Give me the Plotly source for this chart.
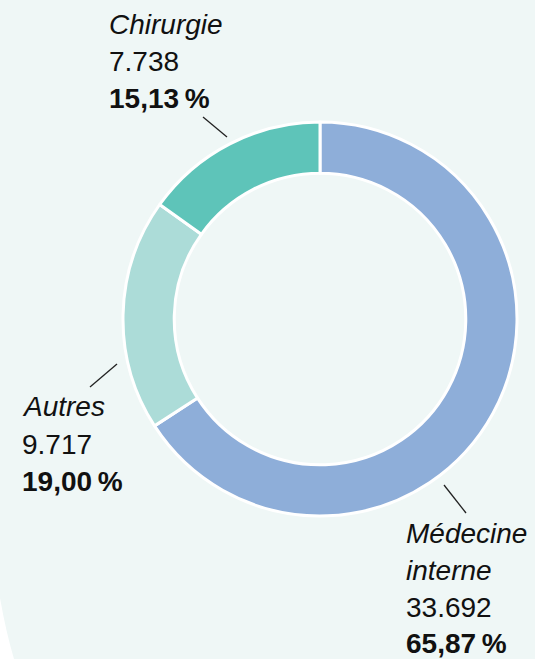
import plotly.graph_objects as go

W, H = 535, 659

categories = ["Médecine interne", "Autres", "Chirurgie"]
values = [33692, 9717, 7738]
value_labels = ["33.692", "9.717", "7.738"]
pct_labels = ["65,87\u2009%", "19,00\u2009%", "15,13\u2009%"]
colors = ["#8eaed9", "#acdcd8", "#5ec4b9"]

fig = go.Figure()
cx, cy, r = 320, 319, 197
fig.add_trace(go.Pie(
    labels=categories, values=values, sort=False, direction="clockwise",
    rotation=0, hole=0.74, textinfo="none", hoverinfo="label+value+percent",
    marker=dict(colors=colors, line=dict(color="white", width=3)),
    domain=dict(x=[(cx - r) / W, (cx + r) / W], y=[1 - (cy + r) / H, 1 - (cy - r) / H]),
    showlegend=False,
))

def px(x):
    return x / W

def py(y):
    return 1 - y / H

FONT = "Liberation Sans"
FS = 28
label_lines = {
    "Chirurgie": (107, [("<i>Chirurgie</i>", 25), (value_labels[2], 61), ("<b>" + pct_labels[2] + "</b>", 98)]),
    "Autres": (20, [("<i>Autres</i>", 406), (value_labels[1], 444), ("<b>" + pct_labels[1] + "</b>", 481)]),
    "Médecine": (404, [("<i>Médecine</i>", 533), ("<i>interne</i>", 570), (value_labels[0], 607), ("<b>" + pct_labels[0] + "</b>", 643)]),
}
for key, (x0, lines) in label_lines.items():
    for txt, yc in lines:
        fig.add_annotation(x=px(x0), y=py(yc), xref="paper", yref="paper", text=txt,
                           showarrow=False, xanchor="left", yanchor="middle",
                           font=dict(family=FONT, size=FS, color="#111111"))

leaders = [((203, 117), (227, 137)), ((90, 387), (117, 364)), ((444, 485), (466, 513))]
for (x0, y0), (x1, y1) in leaders:
    fig.add_shape(type="line", xref="paper", yref="paper", x0=px(x0), y0=py(y0), x1=px(x1), y1=py(y1),
                  line=dict(color="#222222", width=1.3))

# white corner at bottom left
fig.add_shape(type="path", xref="paper", yref="paper", layer="below",
              path=f"M 0,{py(598)} Q {px(6)},{py(632)} {px(14)},{py(659)} L 0,{py(659)} Z",
              fillcolor="white", line=dict(width=0))

fig.update_layout(width=W, height=H, margin=dict(l=0, r=0, t=0, b=0),
                  paper_bgcolor="#eff7f6", plot_bgcolor="#eff7f6")
fig.write_html("out.html", config={"displayModeBar": False},
               post_script="document.body.style.margin='0';document.body.style.overflow='hidden';")
